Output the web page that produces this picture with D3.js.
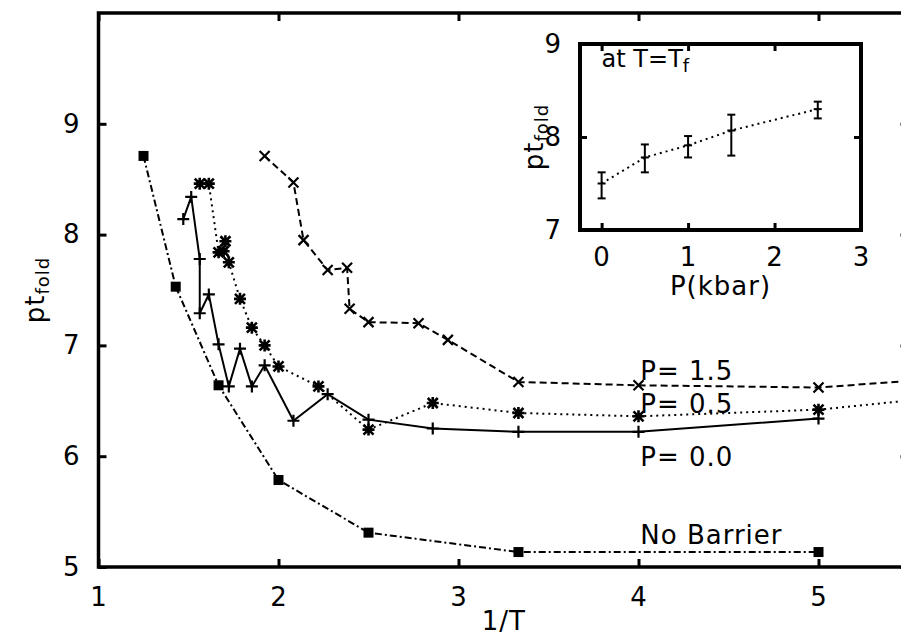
<!DOCTYPE html>
<html>
<head>
<meta charset="utf-8">
<script src="https://cdn.jsdelivr.net/npm/d3@7"></script>
<style>
  body { margin: 0; background: #fff; overflow: hidden; }
  svg { display: block; }
  text { font-family: "DejaVu Sans", sans-serif; fill: #000; }
  .tick text { font-size: 26px; letter-spacing: 1px; }
  .tick line { stroke: #000; stroke-width: 3; }
  .domain { display: none; }
</style>
</head>
<body>
<div id="chart"></div>
<script>
// main plot: folding time vs inverse temperature
var invT_p00 = [1.471, 1.515, 1.5625, 1.5625, 1.613, 1.667, 1.724, 1.786, 1.852, 1.923, 2.083, 2.273, 2.5, 2.857, 3.333, 4.0, 5.0];
var pt_p00   = [8.14, 8.34, 7.78, 7.29, 7.46, 7.01, 6.63, 6.97, 6.63, 6.82, 6.32, 6.56, 6.33, 6.25, 6.22, 6.22, 6.34];

var invT_p05 = [1.5625, 1.613, 1.667, 1.695, 1.705, 1.724, 1.786, 1.852, 1.923, 2.0, 2.222, 2.5, 2.857, 3.333, 4.0, 5.0, 10.0];
var pt_p05   = [8.46, 8.46, 7.84, 7.85, 7.94, 7.75, 7.42, 7.16, 7.00, 6.81, 6.63, 6.24, 6.48, 6.39, 6.36, 6.42, 7.24];

var invT_p15 = [1.923, 2.083, 2.139, 2.273, 2.381, 2.395, 2.5, 2.778, 2.941, 3.333, 4.0, 5.0, 10.0];
var pt_p15   = [8.71, 8.47, 7.95, 7.68, 7.70, 7.33, 7.21, 7.20, 7.05, 6.67, 6.64, 6.62, 7.21];

var invT_nb = [1.25, 1.429, 1.667, 2.0, 2.5, 3.333, 5.0];
var pt_nb   = [8.71, 7.53, 6.64, 5.785, 5.31, 5.135, 5.135];

var xTicks = [1, 2, 3, 4, 5];
var yTicks = [5, 6, 7, 8, 9];

// inset: folding time at T = Tf vs pressure
var pressure = [0, 0.5, 1, 1.5, 2.5];
var ptInset  = [7.50, 7.78, 7.91, 8.07, 8.30];
var errLow   = [7.34, 7.62, 7.78, 7.80, 8.20];
var errHigh  = [7.62, 7.92, 8.01, 8.24, 8.38];

var insetXTicks = [0, 1, 2, 3];
var insetYTicks = [7, 8, 9];

var margin = {top: 13, right: -7.5, bottom: 71, left: 98.5};
var W = 901, H = 638;
var width = W - margin.left - margin.right;
var height = H - margin.top - margin.bottom;

var svg = d3.select("#chart").append("svg")
    .attr("width", W)
    .attr("height", H);

var g = svg.append("g")
    .attr("transform", "translate(" + margin.left + "," + margin.top + ")");

var x = d3.scaleLinear().domain([1, 5.5]).range([0, width]);
var y = d3.scaleLinear().domain([5, 10]).range([height, 0]);

svg.append("defs").append("clipPath")
    .attr("id", "clipMain")
    .append("rect")
    .attr("width", width)
    .attr("height", height);

// axes (ticks inward, mirrored on top/right)
g.append("g")
    .attr("transform", "translate(0," + height + ")")
    .call(d3.axisBottom(x).tickValues(xTicks).tickFormat(d3.format("d")).tickSizeInner(-8).tickSizeOuter(0).tickPadding(21));
g.append("g")
    .call(d3.axisTop(x).tickValues(xTicks).tickFormat("").tickSizeInner(-8).tickSizeOuter(0));
g.append("g")
    .call(d3.axisLeft(y).tickValues(yTicks).tickFormat(d3.format("d")).tickSizeInner(-8).tickSizeOuter(0).tickPadding(18));
g.append("g")
    .attr("transform", "translate(" + width + ",0)")
    .call(d3.axisRight(y).tickValues(yTicks).tickFormat("").tickSizeInner(-8).tickSizeOuter(0));

g.append("rect")
    .attr("width", width)
    .attr("height", height)
    .attr("fill", "none")
    .attr("stroke", "#000")
    .attr("stroke-width", 3.5);

function zipData(xs, ys) {
    return xs.map(function (v, i) { return {x: v, y: ys[i]}; });
}

var series = [
    {name: "P= 0.0", data: zipData(invT_p00, pt_p00), dash: null, width: 2, mark: "plus"},
    {name: "P= 0.5", data: zipData(invT_p05, pt_p05), dash: "2,4", width: 2, mark: "star"},
    {name: "P= 1.5", data: zipData(invT_p15, pt_p15), dash: "7,4", width: 2, mark: "cross"},
    {name: "No Barrier", data: zipData(invT_nb, pt_nb), dash: "7,3,2,3", width: 2, mark: "square"}
];

var line = d3.line()
    .x(function (d) { return x(d.x); })
    .y(function (d) { return y(d.y); });

var markPaths = {
    plus: "M-6,0H6M0,-6V6",
    cross: "M-5,-5L5,5M-5,5L5,-5",
    star: "M-6,0H6M0,-6V6M-5,-5L5,5M-5,5L5,-5"
};

var plotArea = g.append("g").attr("clip-path", "url(#clipMain)");

series.forEach(function (s) {
    plotArea.append("path")
        .datum(s.data)
        .attr("fill", "none")
        .attr("stroke", "#000")
        .attr("stroke-width", s.width)
        .attr("stroke-dasharray", s.dash)
        .attr("d", line);

    var pts = plotArea.append("g").selectAll("g")
        .data(s.data)
        .enter().append("g")
        .attr("transform", function (d) {
            return "translate(" + x(d.x) + "," + y(d.y) + ")";
        });

    if (s.mark === "square") {
        pts.append("rect")
            .attr("x", -5).attr("y", -5)
            .attr("width", 10).attr("height", 10)
            .attr("fill", "#000");
    } else {
        pts.append("path")
            .attr("d", markPaths[s.mark])
            .attr("fill", "none")
            .attr("stroke", "#000")
            .attr("stroke-width", s.mark === "star" ? 2.6 : 2.2);
    }
});

// curve labels
var labels = [
    {text: "P= 1.5", x: 4.01, y: 6.69},
    {text: "P= 0.5", x: 4.01, y: 6.39},
    {text: "P= 0.0", x: 4.01, y: 5.91},
    {text: "No Barrier", x: 4.01, y: 5.21}
];
g.selectAll(".curve-label")
    .data(labels)
    .enter().append("text")
    .attr("class", "curve-label")
    .attr("x", function (d) { return x(d.x); })
    .attr("y", function (d) { return y(d.y); })
    .style("font-size", "26px")
    .style("letter-spacing", "1px")
    .text(function (d) { return d.text; });

// axis titles
svg.append("text")
    .attr("x", margin.left + (W - margin.left) / 2 + 4)
    .attr("y", 630)
    .attr("text-anchor", "middle")
    .style("font-size", "26px")
    .style("letter-spacing", "1px")
    .text("1/T");

function subTitle(parent, tx, ty) {
    var t = parent.append("text")
        .attr("transform", "translate(" + tx + "," + ty + ") rotate(-90)")
        .attr("text-anchor", "middle")
        .style("font-size", "26px")
        .style("letter-spacing", "1px");
    t.append("tspan").text("pt");
    t.append("tspan").attr("dy", "0.3em").style("font-size", "18px").text("fold");
    return t;
}
subTitle(svg, 44, margin.top + height / 2);

// inset
var inset = {left: 580, top: 44, right: 861, bottom: 230};
var ix = d3.scaleLinear().domain([-0.25, 3]).range([0, inset.right - inset.left]);
var iy = d3.scaleLinear().domain([7, 9]).range([inset.bottom - inset.top, 0]);
var iw = inset.right - inset.left, ih = inset.bottom - inset.top;

var gi = svg.append("g")
    .attr("transform", "translate(" + inset.left + "," + inset.top + ")");

gi.append("rect")
    .attr("x", -2).attr("y", -2)
    .attr("width", iw + 4).attr("height", ih + 4)
    .attr("fill", "#fff");

gi.append("g")
    .attr("transform", "translate(0," + ih + ")")
    .call(d3.axisBottom(ix).tickValues(insetXTicks).tickFormat(d3.format("d")).tickSizeInner(-7).tickSizeOuter(0).tickPadding(18));
gi.append("g")
    .call(d3.axisTop(ix).tickValues(insetXTicks).tickFormat("").tickSizeInner(-7).tickSizeOuter(0));
gi.append("g")
    .call(d3.axisLeft(iy).tickValues(insetYTicks).tickFormat(d3.format("d")).tickSizeInner(-7).tickSizeOuter(0).tickPadding(18));
gi.append("g")
    .attr("transform", "translate(" + iw + ",0)")
    .call(d3.axisRight(iy).tickValues(insetYTicks).tickFormat("").tickSizeInner(-7).tickSizeOuter(0));

var insetData = pressure.map(function (p, i) {
    return {x: p, y: ptInset[i], lo: errLow[i], hi: errHigh[i]};
});

gi.append("path")
    .datum(insetData)
    .attr("fill", "none")
    .attr("stroke", "#000")
    .attr("stroke-width", 2)
    .attr("stroke-dasharray", "2,4")
    .attr("d", d3.line()
        .x(function (d) { return ix(d.x); })
        .y(function (d) { return iy(d.y); }));

var eb = gi.append("g").selectAll("g")
    .data(insetData)
    .enter().append("g")
    .attr("transform", function (d) { return "translate(" + ix(d.x) + ",0)"; })
    .attr("stroke", "#000")
    .attr("stroke-width", 2);

eb.append("line")
    .attr("y1", function (d) { return iy(d.lo); })
    .attr("y2", function (d) { return iy(d.hi); });
eb.append("line")
    .attr("x1", -4).attr("x2", 4)
    .attr("y1", function (d) { return iy(d.lo); })
    .attr("y2", function (d) { return iy(d.lo); });
eb.append("line")
    .attr("x1", -4).attr("x2", 4)
    .attr("y1", function (d) { return iy(d.hi); })
    .attr("y2", function (d) { return iy(d.hi); });
eb.append("line")
    .attr("x1", -4).attr("x2", 4)
    .attr("y1", function (d) { return iy(d.y); })
    .attr("y2", function (d) { return iy(d.y); });

gi.append("rect")
    .attr("width", iw)
    .attr("height", ih)
    .attr("fill", "none")
    .attr("stroke", "#000")
    .attr("stroke-width", 4);

var atText = gi.append("text")
    .attr("x", ix(0))
    .attr("y", 23)
    .style("font-size", "24px");
atText.append("tspan").text("at T=T");
atText.append("tspan").attr("dy", "0.3em").style("font-size", "18px").text("f");

svg.append("text")
    .attr("x", inset.left + iw / 2)
    .attr("y", 295)
    .attr("text-anchor", "middle")
    .style("font-size", "26px")
    .style("letter-spacing", "1px")
    .text("P(kbar)");

subTitle(svg, 543, inset.top + ih / 2);
</script>
</body>
</html>
